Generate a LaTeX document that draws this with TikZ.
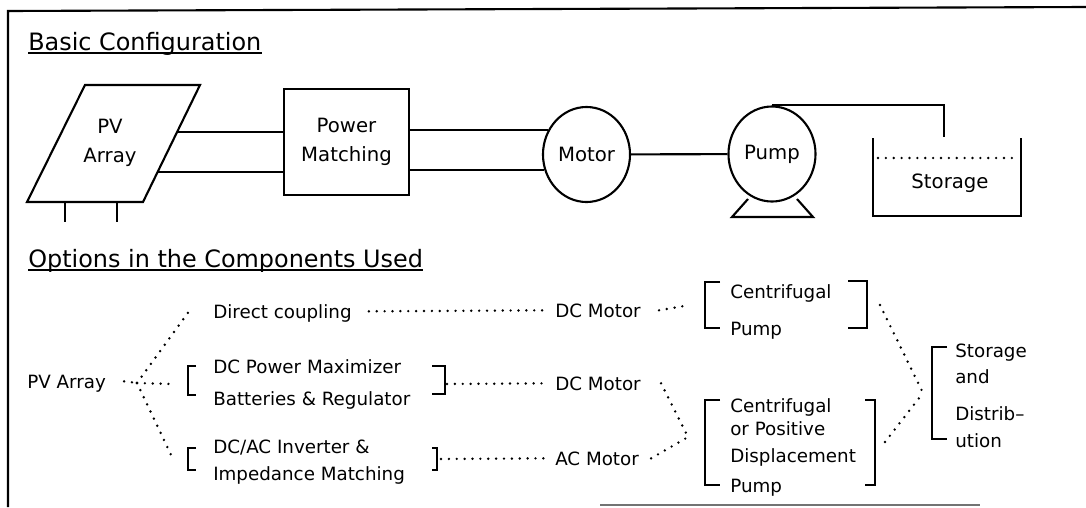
\documentclass[tikz,border=0pt]{standalone}
\usepackage{fontspec}
\setmainfont{DejaVu Sans}
\usetikzlibrary{positioning, calc, shapes.geometric}
\tikzset{
  heading/.style={anchor=base west, inner sep=0pt, font=\fontsize{17}{20}\selectfont},
  part/.style={draw, line width=1.5pt, align=center, inner sep=0pt, font=\fontsize{14}{21}\selectfont},
  wheel/.style={ellipse, draw, line width=1.5pt, inner sep=0pt, minimum width=2.175cm, minimum height=2.375cm, font=\fontsize{14}{17}\selectfont},
  plain/.style={align=center, inner sep=0pt, font=\fontsize{14}{21}\selectfont},
  opt/.style={anchor=base west, inner sep=0pt, text height=9.5pt, text depth=0pt, font=\fontsize{13}{15}\selectfont},
  wire/.style={line width=1.5pt},
  dotline/.style={line width=1.9pt, line cap=round, dash pattern=on 0pt off 5.6pt},
  bracket/.style={line width=1.5pt}
}

\begin{document}
\begin{tikzpicture}[x=0.025cm, y=-0.025cm]
\useasboundingbox (0,0) rectangle (1086,507);
% frame
\draw[wire] (8,507) -- (8,11) -- (1086,7);
\draw[line width=1pt, black!55] (600,505) -- (980,505);

% basic configuration
\node[heading] (basic) at (28,50) {Basic Configuration};
\draw[wire] ([yshift=-0.075cm]basic.base west) -- ([yshift=-0.075cm]basic.base east);

\coordinate (pvtl) at (85,85);
\coordinate (pvtr) at (200,85);
\coordinate (pvbr) at (143,202);
\coordinate (pvbl) at (27,202);
\draw[wire] (pvtl) -- (pvtr) -- (pvbr) -- (pvbl) -- cycle;
\draw[wire] (65,202) -- (65,222);
\draw[wire] (117,202) -- (117,222);
\node[plain] (pvtext) at (110,143) {PV\\Array};
\coordinate (pvout1) at ($(pvtr)!0.402!(pvbr)$);
\coordinate (pvout2) at ($(pvtr)!0.744!(pvbr)$);

\node[part, minimum width=3.125cm, minimum height=2.65cm] (match) at (346.5,142) {Power\\Matching};
\node[wheel] (motor) at (586.5,154.5) {Motor};
\node[wheel] (pump) at (772,154) {Pump};
\draw[wire] (748,199) -- (732,217) -- (813,217) -- (797,199);

\coordinate (tankl) at (873,138);
\coordinate (tankr) at (1021,138);
\coordinate (inlet) at (944,137);
\draw[wire] (tankl) -- (873,216) -- (1021,216) -- (tankr);
\draw[dotline] (878,158) -- (1018,158);
\node[plain] (storage) at (950,183) {Storage};

\draw[wire] (pvout1) -- (pvout1 -| match.west);
\draw[wire] (pvout2) -- (pvout2 -| match.west);
\draw[wire] (motor.147) -- (motor.147 -| match.east);
\draw[wire] (motor.200) -- (motor.200 -| match.east);
\draw[wire] (motor) -- (pump);
\draw[wire] (pump.north) -| (inlet);

% options
\node[heading] (options) at (28,267) {Options in the Components Used};
\draw[wire] ([yshift=-0.075cm]options.base west) -- ([yshift=-0.075cm]options.base east);

\node[opt] (pvarray) at (27,388) {PV Array};
\node[opt] (direct) at (213,318) {Direct coupling};
\node[opt] (maxim) at (213,373) {DC Power Maximizer};
\node[opt] (batt) at (213,405) {Batteries \& Regulator};
\node[opt] (inverter) at (213,453) {DC/AC Inverter \&};
\node[opt] (imped) at (213,480) {Impedance Matching};
\node[opt] (dcmotorA) at (555,317) {DC Motor};
\node[opt] (dcmotorB) at (555,390) {DC Motor};
\node[opt] (acmotor) at (555,465) {AC Motor};
\node[opt] (centA) at (730,298) {Centrifugal};
\node[opt] (pumpA) at (730,335) {Pump};
\node[opt] (centB) at (730,412) {Centrifugal};
\node[opt] (posB) at (730,435) {or Positive};
\node[opt] (dispB) at (730,462) {Displacement};
\node[opt] (pumpB) at (730,492) {Pump};
\node[opt] (stor) at (955,357) {Storage};
\node[opt] (and) at (955,383) {and};
\node[opt] (distrib) at (955,420) {Distrib–};
\node[opt] (ution) at (955,447) {ution};

\draw[bracket] (196,366) -- (188,366) -- (188,395) -- (196,395);
\draw[bracket] (432,366) -- (445,366) -- (445,394) -- (432,394);
\draw[bracket] (196,448) -- (188,448) -- (188,470) -- (196,470);
\draw[bracket] (432,448) -- (437,448) -- (437,470) -- (432,470);
\draw[bracket] (720,282) -- (705,282) -- (705,328) -- (720,328);
\draw[bracket] (848,281) -- (867,281) -- (867,328) -- (848,328);
\draw[bracket] (720,400) -- (705,400) -- (705,485) -- (720,485);
\draw[bracket] (865,400) -- (875,400) -- (875,485) -- (865,485);
\draw[bracket] (947,347) -- (932,347) -- (932,439) -- (947,439);

\coordinate (fan) at (137,383);
\coordinate (r2l) at (188,384);
\coordinate (r2r) at (445,384);
\coordinate (r3l) at (188,459);
\coordinate (r3r) at (437,459);
\coordinate (cpl) at (705,305);
\coordinate (cpr) at (867,305);
\coordinate (dpr) at (875,442);
\coordinate (mjoin) at (688,437);
\coordinate (sjoin) at (923,393);

\draw[dotline] ([xshift=0.45cm]pvarray.east) -- (fan);
\draw[dotline] (fan) -- ([xshift=-0.6cm]direct.west);
\draw[dotline] (fan) -- ([xshift=-0.4cm]r2l);
\draw[dotline] (fan) -- ([xshift=-0.375cm]r3l);
\draw[dotline] ([xshift=0.425cm]direct.east) -- ([xshift=-0.2cm]dcmotorA.west);
\draw[dotline] ([xshift=0.45cm]dcmotorA.east) -- ([xshift=-0.375cm]cpl);
\draw[dotline] ([xshift=0.05cm]r2r) -- ([xshift=-0.2cm]dcmotorB.west);
\draw[dotline] ([xshift=0.1cm]r3r) -- ([xshift=-0.2cm]acmotor.west);
\draw[dotline] ([xshift=0.5cm]dcmotorB.east) -- (mjoin);
\draw[dotline] ([xshift=0.3cm]acmotor.east) -- (mjoin);
\draw[dotline] ([xshift=0.325cm]cpr) -- (sjoin);
\draw[dotline] ([xshift=0.25cm]dpr) -- (sjoin);
\end{tikzpicture}
\end{document}
